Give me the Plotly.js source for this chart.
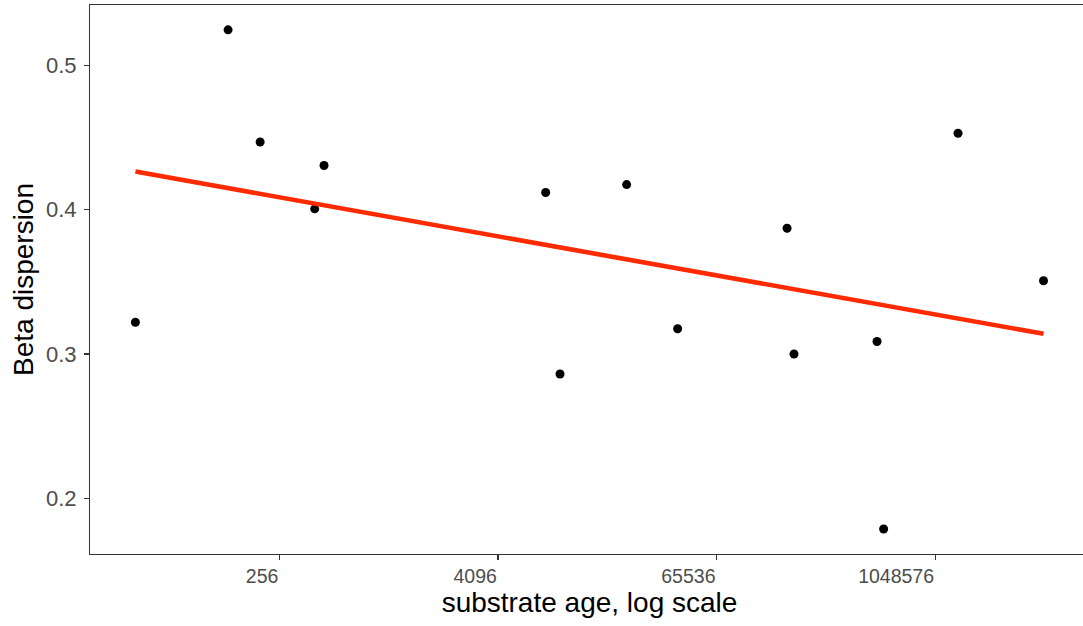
<!DOCTYPE html>
<html>
<head>
<meta charset="utf-8">
<script src="https://cdn.plot.ly/plotly-3.0.1.min.js"></script>
<style>
html,body{margin:0;padding:0;overflow:hidden;background:#fff;}
#chart{width:1095px;height:626px;}
</style>
</head>
<body>
<div id="chart"></div>
<script>
// Data
const substrateAge = [41.2, 133.5, 200.5, 400.6, 451, 7502, 9000, 20950, 40010, 160300, 175100, 501700, 545700, 1402000, 4147000];
const betaDispersion = [0.322, 0.5244, 0.4468, 0.4005, 0.4305, 0.4118, 0.2862, 0.4173, 0.3175, 0.3871, 0.3000, 0.3087, 0.1789, 0.4528, 0.3507];
// fitted trend line endpoints
const fitAge = [41.2, 4147000];
const fitDispersion = [0.4263, 0.314];
const tickValues = [256, 4096, 65536, 1048576];
const tickLabels = ["256", "4096", "65536", "1048576"];
const yTickValues = [0.2, 0.3, 0.4, 0.5];
const yTickLabels = ["0.2", "0.3", "0.4", "0.5"];

const log2lo = 4.534, log2hi = 22.816;
const xr = [log2lo * Math.LOG10E * Math.LN2, log2hi * Math.LOG10E * Math.LN2];

const traces = [
  {
    x: substrateAge, y: betaDispersion, type: 'scatter', mode: 'markers',
    marker: {color: '#000000', size: 9}, showlegend: false, hoverinfo: 'x+y'
  },
  {
    x: fitAge, y: fitDispersion, type: 'scatter', mode: 'lines',
    line: {color: '#ff2a00', width: 4.6}, showlegend: false
  }
];

const axisCommon = {
  showgrid: false, zeroline: false,
  showline: true, linecolor: '#333333', linewidth: 1, mirror: true,
  ticks: 'outside', ticklen: 5, tickwidth: 1.1, tickcolor: '#333333'
};

const layout = {
  width: 1095, height: 626,
  margin: {l: 90, r: 6, t: 5, b: 72},
  paper_bgcolor: '#ffffff', plot_bgcolor: '#ffffff',
  font: {family: 'Liberation Sans, Arial, sans-serif'},
  xaxis: Object.assign({}, axisCommon, {
    type: 'log', range: xr,
    tickmode: 'array', tickvals: tickValues, ticktext: tickLabels,
    ticklabelposition: 'outside left', ticklabelstandoff: 5,
    tickfont: {family: 'Liberation Sans, Arial, sans-serif', size: 19.5, color: '#4d4d4d'},
    title: {text: 'substrate age, log scale', font: {size: 28, color: '#000000'}, standoff: 5}
  }),
  yaxis: Object.assign({}, axisCommon, {
    range: [0.1616, 0.5416],
    tickmode: 'array', tickvals: yTickValues, ticktext: yTickLabels,
    ticklabelstandoff: 3,
    tickfont: {family: 'Liberation Sans, Arial, sans-serif', size: 22, color: '#4d4d4d'},
    title: {text: 'Beta dispersion', font: {size: 28, color: '#000000'}, standoff: 4}
  })
};

Plotly.newPlot('chart', traces, layout, {displayModeBar: false, staticPlot: true});
</script>
</body>
</html>
